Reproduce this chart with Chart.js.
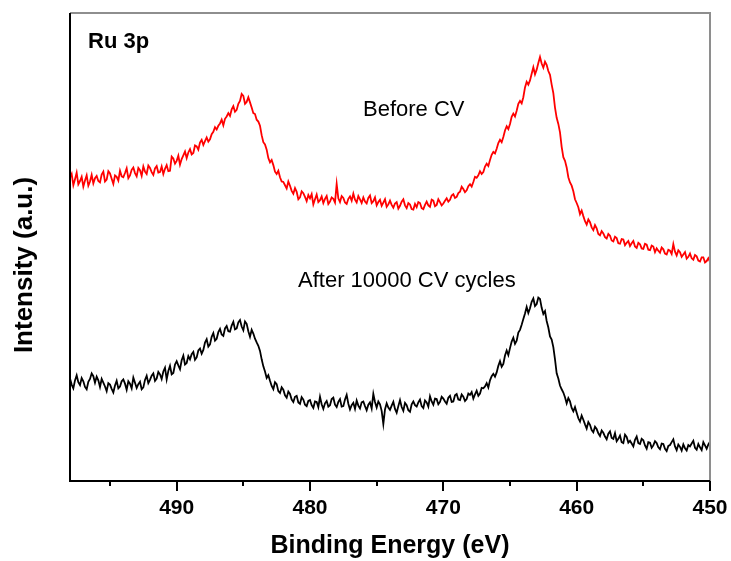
<!DOCTYPE html>
<html>
<head>
<meta charset="utf-8">
<script src="https://cdn.jsdelivr.net/npm/chart.js@4.4.1/dist/chart.umd.min.js"></script>
<style>
  html, body { margin: 0; padding: 0; background: #fff; }
  #wrap { width: 731px; height: 561px; position: relative; }
</style>
</head>
<body>
<div id="wrap"><canvas id="xps"></canvas></div>
<script>
// Ru 3p spectra, binding energy grid 498 -> 450 eV, 0.125 eV per point
const energyStart = 498
const energyStep = 0.125

const beforeCV = [
  64.8, 65.6, 63.2, 64.5, 65.9, 63.4, 64.1, 65.0, 62.9, 64.2, 65.3, 63.1, 64.0, 65.4, 63.6, 64.7,
  65.2, 64.1, 63.8, 65.5, 66.1, 64.0, 64.4, 66.2, 65.7, 64.6, 63.5, 65.3, 65.0, 64.2, 66.3, 65.1,
  64.9, 65.8, 66.8, 64.7, 65.3, 66.5, 67.0, 65.8, 65.1, 66.9, 66.4, 65.2, 67.2, 66.1, 65.6, 67.4,
  66.9, 66.0, 65.4, 66.8, 67.3, 65.9, 66.0, 67.2, 65.6, 66.7, 67.5, 66.2, 66.3, 69.3, 68.9, 67.8,
  68.4, 69.5, 67.6, 68.8, 69.6, 70.4, 69.0, 70.2, 70.9, 69.8, 70.1, 71.7, 71.5, 70.8, 72.3, 72.9,
  71.8, 72.6, 73.4, 72.5, 73.0, 74.1, 74.6, 75.6, 75.1, 75.9, 76.4, 77.2, 76.0, 77.4, 77.9, 78.6,
  78.0, 79.4, 80.1, 78.9, 79.3, 80.6, 81.2, 82.7, 82.3, 80.6, 81.0, 82.0, 80.9, 79.8, 78.6, 78.4,
  77.2, 76.8, 75.9, 73.9, 72.4, 71.9, 70.8, 69.0, 68.1, 68.6, 67.5, 66.1, 65.6, 66.3, 64.9, 64.0,
  63.9, 63.2, 62.5, 64.0, 63.1, 62.0, 61.4, 62.6, 61.8, 60.2, 60.6, 61.9, 61.5, 60.7, 59.8, 61.1,
  60.4, 61.3, 59.1, 60.2, 61.2, 59.6, 60.0, 60.8, 59.4, 60.3, 60.9, 59.2, 59.7, 60.6, 60.3, 59.5,
  63.5, 60.4, 59.6, 60.9, 60.5, 59.5, 59.2, 60.3, 60.8, 59.9, 61.4, 60.1, 59.5, 60.9, 60.2, 59.4,
  60.6, 59.7, 59.3, 60.5, 61.0, 59.4, 59.8, 60.6, 58.9, 59.6, 60.1, 58.8, 59.5, 60.2, 58.6, 59.1,
  59.9, 59.0, 58.4, 59.3, 59.6, 58.2, 58.8, 59.7, 60.2, 58.9, 58.3, 59.4, 59.1, 58.1, 58.0, 59.2,
  58.5, 59.6, 59.4, 58.3, 58.1, 59.0, 59.7, 58.9, 58.6, 60.1, 59.9, 58.7, 59.0, 60.2, 59.6, 58.9,
  59.3, 59.9, 60.4, 59.7, 60.1, 61.0, 61.3, 60.5, 60.7, 61.5, 61.8, 62.9, 62.4, 61.7, 62.1, 63.0,
  63.4, 62.9, 63.9, 65.0, 64.8, 65.3, 66.2, 65.6, 66.0, 67.2, 67.8, 67.3, 68.6, 69.7, 70.3, 70.0,
  71.0, 72.2, 72.9, 72.4, 73.5, 74.9, 75.8, 75.2, 76.3, 77.8, 78.5, 77.9, 79.1, 80.6, 81.2, 80.7,
  82.0, 84.1, 85.3, 84.7, 85.6, 87.0, 88.4, 86.9, 87.9, 89.3, 90.6, 89.2, 88.3, 89.6, 88.9, 87.6,
  86.8, 84.7, 82.9, 79.8, 77.6, 76.3, 74.5, 71.4, 69.2, 68.4, 67.0, 64.9, 63.8, 63.1, 61.9, 60.2,
  59.4, 58.5, 57.0, 57.8, 56.6, 55.5, 54.8, 55.9, 55.3, 54.2, 53.6, 54.7, 54.0, 52.8, 52.5, 53.4,
  52.9, 52.1, 51.8, 52.8, 52.4, 51.4, 51.2, 52.2, 51.9, 50.8, 50.7, 51.7, 51.6, 50.4, 50.9, 51.3,
  50.2, 50.8, 51.3, 50.1, 49.8, 50.9, 50.6, 49.7, 49.6, 50.7, 50.5, 49.4, 49.3, 50.3, 50.1, 48.9,
  49.7, 49.2, 48.8, 49.9, 49.5, 48.6, 48.4, 49.4, 49.2, 48.5, 50.6, 49.0, 48.2, 49.3, 48.9, 47.9,
  48.4, 48.9, 47.5, 47.9, 48.6, 47.6, 47.3, 48.3, 48.0, 47.1, 46.9, 47.8, 47.8, 46.7, 47.0, 47.6,
  46.8
]

const afterCycles = [
  21.9, 20.6, 19.8, 21.5, 22.6, 21.1, 20.5, 22.0, 21.3, 20.1, 19.6, 21.2, 21.8, 23.0, 22.4, 21.0,
  22.3, 21.5, 20.1, 21.8, 21.0, 20.2, 19.2, 20.9, 20.6, 19.7, 18.9, 20.4, 21.4, 19.8, 20.2, 21.3,
  21.7, 20.8, 19.5, 21.3, 20.8, 19.8, 22.1, 21.0, 19.9, 20.7, 21.2, 19.6, 20.0, 21.6, 22.5, 20.9,
  21.6, 22.5, 23.0, 21.4, 21.9, 23.3, 22.8, 21.8, 23.4, 24.2, 21.7, 23.5, 24.6, 22.8, 23.1, 24.9,
  25.6, 24.7, 23.9, 25.8, 26.8, 24.9, 25.2, 26.7, 26.0, 27.1, 27.6, 25.9, 26.4, 27.9, 28.3, 27.2,
  28.0, 29.6, 30.3, 28.7, 29.2, 30.8, 31.6, 30.0, 30.4, 31.8, 32.5, 31.3, 31.0, 32.6, 33.1, 32.0,
  31.9, 33.2, 34.0, 32.4, 32.6, 33.9, 34.4, 33.0, 32.2, 34.1, 33.6, 32.0, 30.8, 32.3, 31.5, 30.4,
  29.6, 28.9, 27.8, 26.0, 24.5, 23.4, 22.0, 22.6, 21.4, 20.3, 19.6, 21.1, 20.7, 19.2, 18.8, 20.0,
  19.5, 18.3, 17.8, 19.1, 18.6, 17.4, 16.9, 18.0, 18.2, 16.8, 16.5, 17.9, 17.4, 16.3, 16.0, 17.1,
  17.3, 16.2, 15.6, 17.0, 16.9, 15.8, 18.0, 16.4, 15.4, 16.6, 17.1, 15.9, 16.2, 17.5, 17.8, 16.3,
  15.8, 16.9, 17.5, 15.9, 16.0, 17.4, 18.4, 16.5, 15.3, 16.2, 16.7, 15.4, 17.2, 16.1, 15.5, 16.8,
  17.0, 16.0, 15.1, 16.3, 16.8, 15.5, 18.6, 16.9, 15.7, 17.0, 16.4, 15.0, 12.2, 15.3, 16.6, 15.7,
  15.2, 16.1, 16.9, 15.4, 14.6, 16.0, 17.3, 15.8, 15.0, 16.7, 16.2, 15.1, 14.8, 16.4, 17.0, 16.2,
  15.9, 16.8, 17.4, 16.0, 15.6, 17.2, 16.8, 15.9, 18.1, 17.0, 16.3, 17.6, 17.5, 16.4, 16.9, 18.0,
  17.6, 17.0, 16.5, 17.8, 18.2, 16.9, 17.0, 18.3, 18.6, 17.4, 17.3, 18.5, 18.0, 17.1, 17.5, 18.7,
  18.4, 19.0, 17.6, 18.5, 19.3, 18.2, 18.7, 19.9, 19.8, 20.2, 20.9, 20.0, 21.5, 22.4, 22.9, 22.3,
  23.2, 24.6, 25.6, 24.4, 25.0, 26.8, 27.9, 26.9, 28.4, 29.8, 30.6, 29.3, 30.0, 31.7, 32.3, 33.4,
  34.6, 35.8, 37.2, 35.9, 36.9, 38.3, 39.0, 37.4, 37.8, 39.2, 38.9, 37.0, 35.7, 36.3, 34.2, 32.8,
  30.9, 30.2, 28.6, 26.0, 23.0, 21.9, 20.4, 19.6, 18.9, 17.9, 16.6, 17.7, 17.0, 15.6, 14.9, 15.8,
  14.6, 13.4, 12.7, 14.0, 13.1, 12.1, 11.2, 12.6, 12.0, 10.9, 10.4, 11.6, 11.1, 10.2, 9.6, 10.8,
  10.3, 9.5, 8.9, 10.1, 10.6, 9.2, 9.0, 10.2, 8.5, 9.0, 9.7, 8.3, 8.1, 9.9, 9.4, 8.2,
  8.6, 8.0, 7.4, 8.8, 9.5, 8.1, 7.9, 9.0, 8.7, 7.6, 6.9, 8.3, 8.2, 7.1, 7.6, 8.5,
  8.1, 7.2, 6.8, 8.0, 7.9, 6.9, 6.4, 7.5, 7.7, 8.3, 8.9, 7.4, 6.6, 7.8, 7.3, 6.5,
  7.8, 7.0, 6.5, 7.7, 7.4, 8.0, 8.6, 7.1, 6.7, 7.9, 7.2, 6.6, 8.3, 7.6, 6.9, 7.8,
  8.4
]

// labelled ticks every 10 eV, short unlabelled ones in between
const majorTicks = [490, 480, 470, 460, 450]

const toPoints = (vals) => vals.map((y, i) => ({ x: energyStart - i * energyStep, y }))

const FONT = "'Liberation Sans', Arial, sans-serif"

// frame, tick marks and the text annotations
const decorations = {
  id: "decorations",
  afterDatasetsDraw(chart) {
    const { ctx, chartArea: a, scales: { x } } = chart
    ctx.save()

    ctx.strokeStyle = "#000"
    ctx.lineWidth = 2
    x.ticks.forEach(t => {
      const px = Math.round(x.getPixelForValue(t.value))
      const len = majorTicks.includes(t.value) ? 10 : 5
      ctx.beginPath()
      ctx.moveTo(px, a.bottom)
      ctx.lineTo(px, a.bottom + len)
      ctx.stroke()
    })

    // top / right in grey, left / bottom in black
    ctx.strokeStyle = "#8e8e8e"
    ctx.beginPath()
    ctx.moveTo(a.left, a.top)
    ctx.lineTo(a.right, a.top)
    ctx.lineTo(a.right, a.bottom)
    ctx.stroke()
    ctx.strokeStyle = "#000"
    ctx.beginPath()
    ctx.moveTo(a.left, a.top)
    ctx.lineTo(a.left, a.bottom)
    ctx.lineTo(a.right, a.bottom)
    ctx.stroke()

    ctx.fillStyle = "#000"
    ctx.textBaseline = "alphabetic"
    ctx.textAlign = "left"
    ctx.font = `bold 22px ${FONT}`
    ctx.fillText("Ru 3p", 88, 48)
    ctx.font = `22px ${FONT}`
    ctx.fillText("Before CV", 363, 116)
    ctx.fillText("After 10000 CV cycles", 298, 287)

    // y axis title
    ctx.translate(25, 265)
    ctx.rotate(-Math.PI / 2)
    ctx.textAlign = "center"
    ctx.textBaseline = "middle"
    ctx.font = `bold 26px ${FONT}`
    ctx.fillText("Intensity (a.u.)", 0, 0)
    ctx.restore()
  }
}

new Chart(document.getElementById("xps"), {
  type: "line",
  data: {
    datasets: [
      {
        label: "Before CV",
        data: toPoints(beforeCV),
        borderColor: "#ff0000",
        borderWidth: 1.8,
        pointRadius: 0,
        tension: 0
      },
      {
        label: "After 10000 CV cycles",
        data: toPoints(afterCycles),
        borderColor: "#000000",
        borderWidth: 1.8,
        pointRadius: 0,
        tension: 0
      }
    ]
  },
  options: {
    responsive: true,
    maintainAspectRatio: false,
    animation: false,
    layout: { padding: { left: 70, right: 21, top: 13, bottom: 0 } },
    plugins: {
      legend: { display: false },
      tooltip: { enabled: false }
    },
    scales: {
      x: {
        type: "linear",
        reverse: true,
        min: 450,
        max: 498,
        border: { display: false },
        grid: {
          display: false,
          drawTicks: false
        },
        ticks: {
          stepSize: 5,
          includeBounds: false,
          autoSkip: false,
          maxRotation: 0,
          padding: 15,
          color: "#000",
          font: { family: FONT, size: 21, weight: "bold" },
          callback: (v) => majorTicks.includes(v) ? String(v) : ""
        },
        title: {
          display: true,
          text: "Binding Energy (eV)",
          color: "#000",
          padding: 0,
          font: { family: FONT, size: 25, weight: "bold" }
        },
        afterFit(scale) {
          scale.height = 80
          scale.paddingLeft = 0
          scale.paddingRight = 0
        }
      },
      y: {
        display: false,
        min: 0,
        max: 100
      }
    }
  },
  plugins: [decorations]
})
</script>
</body>
</html>
